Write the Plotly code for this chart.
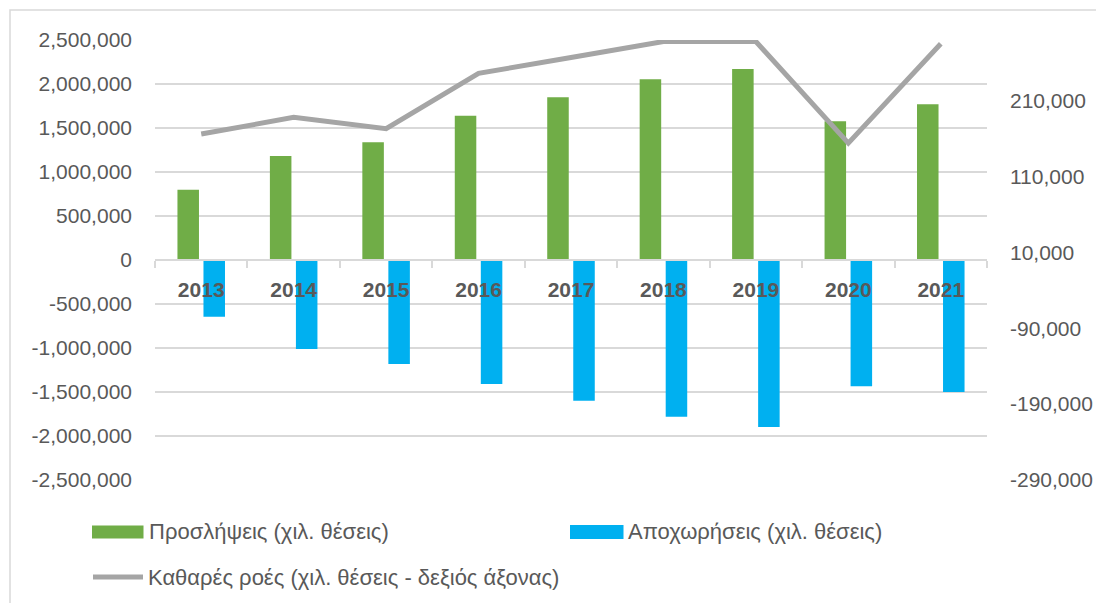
import plotly.graph_objects as go

# ---------------- data ----------------
years = ["2013", "2014", "2015", "2016", "2017", "2018", "2019", "2020", "2021"]
hires = [799000, 1182000, 1337000, 1640000, 1849000, 2055000, 2170000, 1578000, 1769000]
separations = [-644000, -1011000, -1182000, -1409000, -1599000, -1780000, -1898000, -1436000, -1500000]
net_flows = [166000, 188000, 173000, 246000, 267000, 288000, 288000, 154000, 285000]

series_names = [
    "Προσλήψεις (χιλ. θέσεις)",
    "Αποχωρήσεις (χιλ. θέσεις)",
    "Καθαρές ροές (χιλ. θέσεις - δεξιός άξονας)",
]

left_tickvals = [2500000, 2000000, 1500000, 1000000, 500000, 0,
                 -500000, -1000000, -1500000, -2000000, -2500000]
left_ticktext = ["2,500,000", "2,000,000", "1,500,000", "1,000,000", "500,000", "0",
                 "-500,000", "-1,000,000", "-1,500,000", "-2,000,000", "-2,500,000"]
right_tickvals = [210000, 110000, 10000, -90000, -190000, -290000]
right_ticktext = ["210,000", "110,000", "10,000", "-90,000", "-190,000", "-290,000"]

# ---------------- style ----------------
GREEN = "#70AD47"
BLUE = "#00B0F0"
GRAY_LINE = "#A5A5A5"
GRID = "#D9D9D9"
TEXT = "#595959"
FONT = "Liberation Sans"

OFF = 8  # page body margin
W, H = 1104 - OFF, 603 - OFF
L, R, T, B = 155 - OFF, 987 - OFF, 40 - OFF, 480 - OFF  # plot area in figure pixels


def px_x(px):
    return (px - OFF - L) / (R - L)


def px_y(py):
    return (B - (py - OFF)) / (B - T)


fig = go.Figure()
fig.add_trace(go.Bar(x=years, y=hires, name=series_names[0], marker_color=GREEN,
                     marker_line_width=0))
fig.add_trace(go.Bar(x=years, y=separations, name=series_names[1], marker_color=BLUE,
                     marker_line_width=0))
fig.add_trace(go.Scatter(x=years, y=net_flows, name=series_names[2], mode="lines",
                         line=dict(color=GRAY_LINE, width=5), yaxis="y2"))

shapes = []
annotations = []

# outer chart border
shapes.append(dict(type="rect", xref="paper", yref="paper",
                   x0=px_x(10), x1=px_x(1112), y0=px_y(612), y1=px_y(10),
                   line=dict(color=GRID, width=1.5), fillcolor="rgba(0,0,0,0)"))

# custom legend
shapes.append(dict(type="rect", xref="paper", yref="paper",
                   x0=px_x(92), x1=px_x(143.5), y0=px_y(538.5), y1=px_y(525.5),
                   line=dict(width=0), fillcolor=GREEN))
shapes.append(dict(type="rect", xref="paper", yref="paper",
                   x0=px_x(570), x1=px_x(623.5), y0=px_y(539), y1=px_y(525),
                   line=dict(width=0), fillcolor=BLUE))
shapes.append(dict(type="line", xref="paper", yref="paper",
                   x0=px_x(93), x1=px_x(143), y0=px_y(577), y1=px_y(577),
                   line=dict(color=GRAY_LINE, width=5)))

legend_pos = [(147, 531), (626, 531), (146, 577)]
for name, (lx, ly) in zip(series_names, legend_pos):
    annotations.append(dict(text=name, xref="paper", yref="paper",
                            x=px_x(lx), y=px_y(ly), xanchor="left", yanchor="middle",
                            showarrow=False, font=dict(family=FONT, size=22, color=TEXT)))

fig.update_layout(
    width=W, height=H,
    margin=dict(l=L, r=W - R, t=T, b=H - B, pad=0),
    paper_bgcolor="white", plot_bgcolor="white",
    barmode="group", bargap=0.437, bargroupgap=0.173,
    showlegend=False,
    shapes=shapes, annotations=annotations,
    font=dict(family=FONT, size=21, color=TEXT),
    xaxis=dict(type="category", categoryorder="array", categoryarray=years,
               anchor="free", position=0.5,
               showline=True, linecolor=GRID, linewidth=1.5,
               ticks="outside", tickson="boundaries", ticklen=7, tickcolor=GRID, tickwidth=1.5,
               showgrid=False, zeroline=False,
               tickfont=dict(family=FONT, size=21, color=TEXT, weight="bold"),
               ticklabelstandoff=11),
    yaxis=dict(range=[-2500000, 2500000], tickvals=left_tickvals, ticktext=left_ticktext,
               showgrid=True, gridcolor=GRID, gridwidth=1.5, zeroline=False,
               showline=False, ticks="", ticklabelstandoff=22,
               tickfont=dict(family=FONT, size=21, color=TEXT)),
    yaxis2=dict(range=[-290000, 290000], overlaying="y", side="right",
                tickvals=right_tickvals, ticktext=right_ticktext,
                showgrid=False, zeroline=False, showline=False, ticks="",
                ticklabelstandoff=22,
                tickfont=dict(family=FONT, size=21, color=TEXT)),
)

fig.write_html("out.html")
